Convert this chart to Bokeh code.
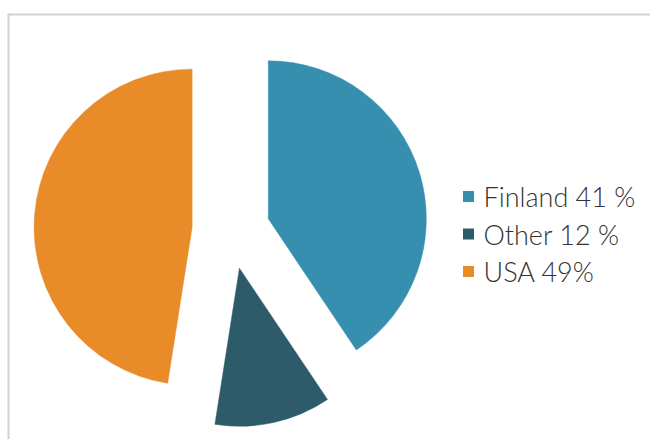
import math
from bokeh.plotting import figure
from bokeh.models import ColumnDataSource
from bokeh.core.properties import value
from bokeh.embed import file_html
from bokeh.resources import INLINE

# Data
categories = ["Finland", "Other", "USA"]
shares = [41, 12, 48]
labels = ["Finland 41 %", "Other 12 %", "USA 49%"]
colors = ["#378FB0", "#2D5B69", "#E88B28"]

W, H = 650, 439
p = figure(width=W, height=H, output_backend="svg", toolbar_location=None,
           x_range=(0, W), y_range=(0, H), x_axis_type=None, y_axis_type=None,
           min_border=0, outline_line_color=None)
p.grid.visible = False
p.background_fill_color = "white"
p.border_fill_color = "white"

# chart border (top and left visible)
p.segment(x0=[7, 8], y0=[425, 425], x1=[W, 8], y1=[425, 0],
          line_color="#D2D2D2", line_width=2)

# pie geometry
cx, cy, r, explode = 230.5, 209.3, 158, 39
total = float(sum(shares))
xs, ys, sa, ea = [], [], [], []
acc = 0.0
for s in shares:
    a0 = acc / total * 2 * math.pi
    acc += s
    a1 = acc / total * 2 * math.pi
    mid = (a0 + a1) / 2
    xs.append(cx + explode * math.sin(mid))
    ys.append(cy + explode * math.cos(mid))
    sa.append(math.pi / 2 - a0)
    ea.append(math.pi / 2 - a1)

src = ColumnDataSource(dict(x=xs, y=ys, start=sa, end=ea, color=colors))
p.wedge(x="x", y="y", radius=r, start_angle="start", end_angle="end",
        direction="clock", fill_color="color", line_color="color",
        line_width=0.5, source=src)

# legend
row0, step = H - 196, 37.5
ly = [row0 - i * step for i in range(len(labels))]
p.rect(x=[468] * len(labels), y=ly, width=11, height=11,
       fill_color=colors, line_color=None)
p.text(x=[483] * len(labels), y=ly, text=labels,
       text_font=value("'Lato Light', Lato"),
       text_font_size="27px", text_baseline="middle", text_align="left",
       text_color="#333333")

open("out.html", "w").write(file_html(p, INLINE))
